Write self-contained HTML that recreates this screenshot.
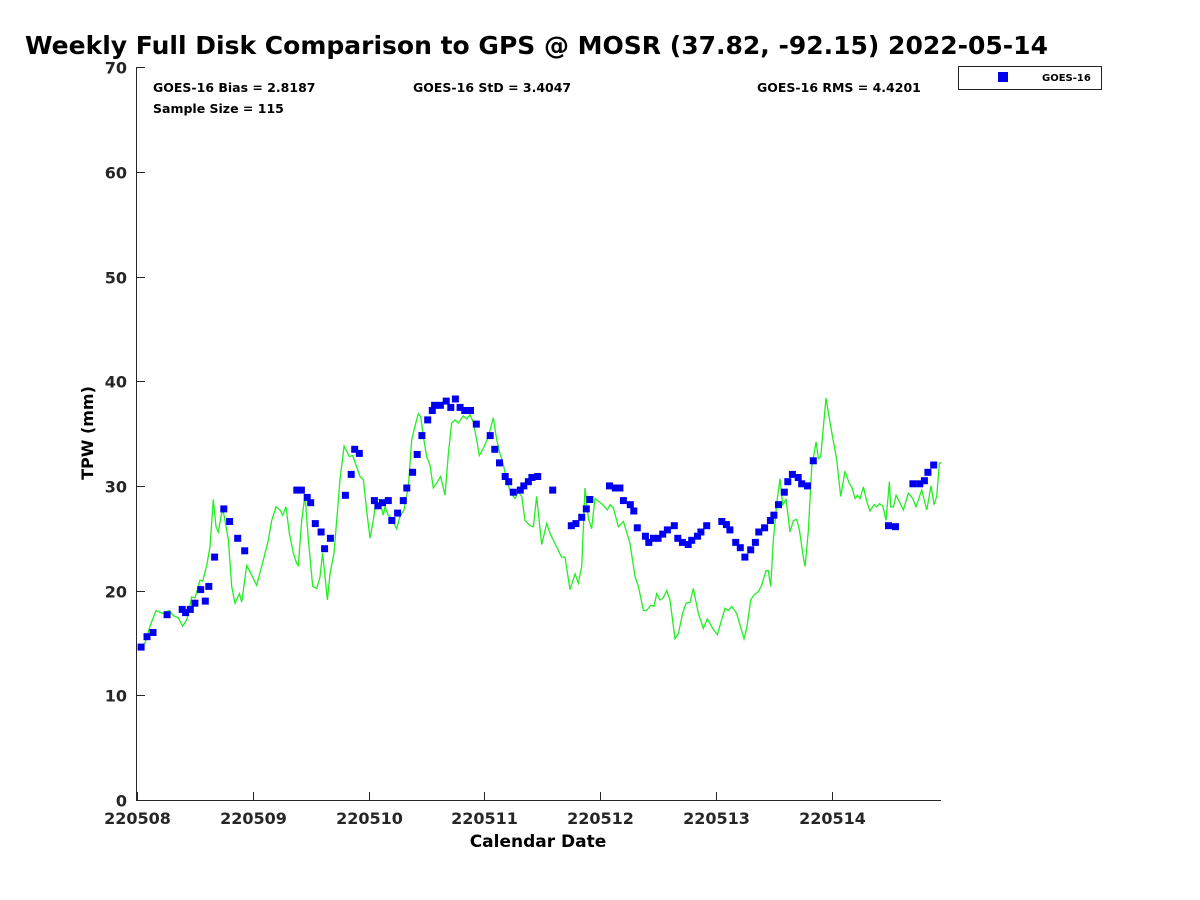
<!DOCTYPE html>
<html><head><meta charset="utf-8"><style>
html,body{margin:0;padding:0;background:#fff;}
svg{display:block;font-family:"DejaVu Sans","Liberation Sans",sans-serif;}
</style></head><body>
<svg id="chart" width="1200" height="900">
<text x="25" y="54" font-size="25" font-weight="bold">Weekly Full Disk Comparison to GPS @ MOSR (37.82, -92.15) 2022-05-14</text>
<rect x="136" y="67" width="805" height="733" fill="none" stroke="none"/>
<g id="axes"></g>
<g id="series"></g>
<text x="153" y="92" font-size="12.5" font-weight="bold">GOES-16 Bias = 2.8187</text>
<text x="153" y="113" font-size="12.5" font-weight="bold">Sample Size = 115</text>
<text x="413" y="92" font-size="12.5" font-weight="bold">GOES-16 StD = 3.4047</text>
<text x="757" y="92" font-size="12.5" font-weight="bold">GOES-16 RMS = 4.4201</text>
<g>
<rect x="958.5" y="66.5" width="143" height="23" fill="#fff" stroke="#222"/>
<rect x="998" y="72" width="10" height="10" fill="#0000ee"/>
<text x="1042" y="81" font-size="10" font-weight="bold">GOES-16</text>
</g>
<text x="538" y="847" font-size="17" font-weight="bold" text-anchor="middle">Calendar Date</text>
<text transform="translate(93,433) rotate(-90)" font-size="16" font-weight="bold" text-anchor="middle">TPW (mm)</text>
</svg>
<script>
const xTickLabels=["220508","220509","220510","220511","220512","220513","220514"];
const yTickValues=[0,10,20,30,40,50,60,70];
const goesDays=[0.035,0.086,0.138,0.26,0.39,0.42,0.46,0.50,0.55,0.59,0.62,0.67,0.75,0.80,0.87,0.93,1.38,1.42,1.47,1.50,1.54,1.59,1.62,1.67,1.80,1.85,1.88,1.92,2.05,2.08,2.12,2.17,2.20,2.25,2.30,2.33,2.38,2.42,2.46,2.51,2.55,2.57,2.62,2.67,2.71,2.75,2.79,2.83,2.88,2.93,3.05,3.09,3.13,3.18,3.21,3.25,3.31,3.34,3.38,3.41,3.46,3.59,3.75,3.79,3.84,3.88,3.91,4.08,4.13,4.17,4.20,4.26,4.29,4.32,4.39,4.42,4.46,4.50,4.54,4.58,4.64,4.67,4.71,4.76,4.79,4.84,4.87,4.92,5.05,5.09,5.12,5.17,5.21,5.25,5.30,5.34,5.37,5.42,5.47,5.50,5.54,5.59,5.62,5.66,5.71,5.74,5.79,5.84,6.49,6.55,6.70,6.76,6.80,6.83,6.88];
const goesValues=[14.6,15.6,16.0,17.7,18.2,17.9,18.2,18.8,20.1,19.0,20.4,23.2,27.8,26.6,25.0,23.8,29.6,29.6,28.9,28.4,26.4,25.6,24.0,25.0,29.1,31.1,33.5,33.1,28.6,28.1,28.4,28.6,26.7,27.4,28.6,29.8,31.3,33.0,34.8,36.3,37.2,37.7,37.7,38.1,37.5,38.3,37.5,37.2,37.2,35.9,34.8,33.5,32.2,30.9,30.4,29.4,29.6,30.0,30.4,30.8,30.9,29.6,26.2,26.4,27.0,27.8,28.7,30.0,29.8,29.8,28.6,28.2,27.6,26.0,25.2,24.6,25.0,25.0,25.4,25.8,26.2,25.0,24.6,24.4,24.8,25.2,25.6,26.2,26.6,26.3,25.8,24.6,24.1,23.2,23.9,24.6,25.6,26.0,26.7,27.2,28.2,29.4,30.4,31.1,30.8,30.2,30.0,32.4,26.2,26.1,30.2,30.2,30.5,31.3,32.0];
const gpsDays=[0.026,0.069,0.112,0.164,0.227,0.279,0.314,0.357,0.394,0.429,0.472,0.501,0.544,0.567,0.602,0.630,0.659,0.682,0.702,0.731,0.746,0.760,0.789,0.818,0.846,0.884,0.904,0.947,0.990,1.033,1.091,1.134,1.163,1.200,1.235,1.258,1.287,1.315,1.350,1.379,1.393,1.422,1.451,1.480,1.517,1.552,1.580,1.603,1.644,1.667,1.701,1.730,1.753,1.788,1.834,1.862,1.897,1.926,1.955,1.983,2.012,2.041,2.064,2.093,2.127,2.142,2.170,2.199,2.242,2.271,2.306,2.343,2.372,2.401,2.429,2.450,2.473,2.501,2.530,2.559,2.588,2.622,2.660,2.689,2.717,2.746,2.775,2.818,2.847,2.876,2.904,2.933,2.956,2.991,3.034,3.077,3.106,3.135,3.164,3.192,3.227,3.264,3.293,3.322,3.351,3.394,3.423,3.451,3.495,3.538,3.566,3.667,3.696,3.739,3.783,3.811,3.840,3.869,3.898,3.926,3.955,4.013,4.062,4.085,4.114,4.157,4.200,4.257,4.301,4.330,4.373,4.401,4.436,4.465,4.488,4.516,4.545,4.574,4.603,4.646,4.675,4.712,4.741,4.776,4.804,4.848,4.891,4.925,4.971,5.012,5.035,5.078,5.107,5.136,5.179,5.242,5.265,5.300,5.329,5.366,5.394,5.432,5.452,5.472,5.495,5.524,5.553,5.576,5.605,5.639,5.668,5.697,5.720,5.754,5.769,5.798,5.826,5.864,5.884,5.904,5.950,5.985,6.042,6.077,6.114,6.152,6.172,6.201,6.221,6.244,6.273,6.302,6.330,6.365,6.388,6.411,6.440,6.468,6.497,6.509,6.532,6.555,6.583,6.618,6.661,6.699,6.727,6.776,6.820,6.857,6.883,6.906,6.929,6.949];
const gpsValues=[14.6,15.0,16.6,18.1,17.8,18.1,17.6,17.4,16.6,17.2,19.4,19.3,21.0,20.9,22.4,24.2,28.7,26.1,25.6,27.4,27.5,26.7,24.8,20.4,18.8,19.7,18.9,22.4,21.5,20.5,22.9,24.8,26.7,28.0,27.7,27.2,28.0,25.5,23.6,22.6,22.4,26.7,29.1,24.8,20.4,20.2,21.3,23.6,19.1,21.6,23.6,27.4,30.6,33.8,32.8,32.9,31.8,30.9,30.6,27.7,25.0,26.7,28.7,28.7,27.2,28.0,27.2,26.9,25.9,27.1,27.7,29.9,34.4,35.7,36.9,36.6,34.7,32.8,32.0,29.8,30.3,30.9,29.1,33.1,36.0,36.3,36.0,36.7,36.4,36.8,36.1,34.4,32.9,33.6,34.7,36.5,34.4,33.1,32.0,30.6,29.3,28.8,29.4,29.0,26.7,26.2,26.1,29.0,24.4,26.4,25.5,23.2,23.2,20.1,21.6,20.7,22.3,29.8,26.9,25.9,28.8,28.3,27.7,28.2,27.9,26.1,26.6,24.5,21.3,20.4,18.1,18.1,18.6,18.5,19.7,19.1,19.3,20.0,19.1,15.4,15.9,17.8,18.8,18.9,20.2,17.8,16.4,17.3,16.4,15.8,16.7,18.3,18.1,18.5,17.8,15.4,16.4,19.1,19.6,19.9,20.5,21.9,21.9,20.4,24.8,28.3,30.7,28.2,28.7,25.6,26.7,26.8,25.8,23.2,22.3,25.8,31.8,34.2,32.6,32.8,38.4,36.0,32.5,29.0,31.4,30.2,29.9,28.8,29.1,28.8,29.9,28.5,27.6,28.2,28.0,28.3,28.1,26.7,30.4,28.0,28.0,29.1,28.5,27.7,29.3,28.8,28.0,29.6,27.7,30.0,28.2,29.0,32.2,32.2];

const NS='http://www.w3.org/2000/svg';
const X0=137, DAYPX=115.8, Y0=800, VPX=10.47;
function xs(d){return X0+d*DAYPX;}
function ys(v){return Y0-v*VPX;}
function mk(tag,attrs,parent){const e=document.createElementNS(NS,tag);for(const k in attrs)e.setAttribute(k,attrs[k]);parent.appendChild(e);return e;}
const axes=document.getElementById('axes'), series=document.getElementById('series');
let el=mk('line',{x1:136.5,y1:67,x2:136.5,y2:800,stroke:'#262626','stroke-width':1},axes);


el=mk('line',{x1:136,y1:800.5,x2:941,y2:800.5,stroke:'#262626','stroke-width':1},axes);


yTickValues.forEach(v=>{
  const y=Math.round(ys(v))+0.5;
  let t=mk('line',{x1:137,y1:y,x2:145,y2:y,stroke:'#262626'},axes);
  
  
  let l=mk('text',{x:127,y:y+6,'font-size':16,'font-weight':'bold','text-anchor':'end',fill:'#262626'},axes);
  l.textContent=v;
  
  
});
xTickLabels.forEach((s,i)=>{
  const x=Math.round(xs(i))+0.5;
  let t=mk('line',{x1:x,y1:800,x2:x,y2:792,stroke:'#262626'},axes);
  
  
  let l=mk('text',{x:x,y:824,'font-size':16,'font-weight':'bold','text-anchor':'middle',fill:'#262626'},axes);
  l.textContent=s;
  
  
});
const pts=gpsDays.map((d,i)=>xs(d).toFixed(1)+','+ys(gpsValues[i]).toFixed(1)).join(' ');
el=mk('polyline',{points:pts,fill:'none',stroke:'#22ee22','stroke-width':1.3},series);


goesDays.forEach((d,i)=>{
  const r=mk('rect',{x:(xs(d)-3.5).toFixed(1),y:(ys(goesValues[i])-3.5).toFixed(1),width:7,height:7,fill:'#0000ee'},series);
  
  
});
</script>
</body></html>
